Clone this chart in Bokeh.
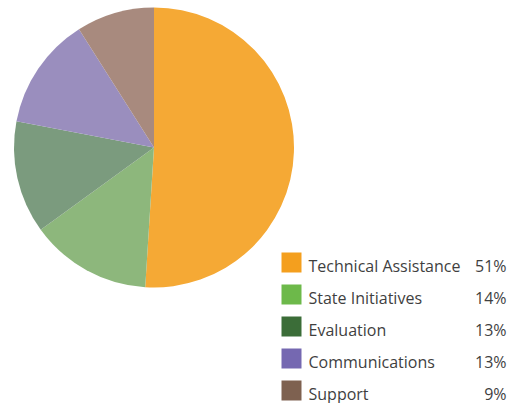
import math
from bokeh.plotting import figure
from bokeh.models import Range1d
from bokeh.core.properties import value
from bokeh.embed import file_html
from bokeh.resources import INLINE

categories = ["Technical Assistance", "State Initiatives", "Evaluation", "Communications", "Support"]
shares = [51, 14, 13, 13, 9]
pct_labels = ["51%", "14%", "13%", "13%", "9%"]
pie_colors = ["#F5A935", "#8DB77C", "#7B9B7E", "#9A8EBE", "#A88A7E"]
legend_colors = ["#F49F1E", "#6DB94A", "#3B6D38", "#7568B1", "#7E6150"]

W, H = 525, 403
p = figure(width=W, height=H, output_backend="svg", toolbar_location=None,
           x_range=Range1d(0, W), y_range=Range1d(0, H), min_border=0)
p.axis.visible = False
p.grid.visible = False
p.outline_line_color = None
p.background_fill_color = "white"
p.border_fill_color = "white"

# pie
cx, cy, r = 153.5, H - 147, 140
total = sum(shares)
cum = 0.0
starts, ends = [], []
for s in shares:
    starts.append(math.pi / 2 - 2 * math.pi * cum / total)
    cum += s
    ends.append(math.pi / 2 - 2 * math.pi * cum / total)
p.wedge(x=[cx] * len(shares), y=[cy] * len(shares), radius=r,
        start_angle=starts, end_angle=ends, direction="clock",
        fill_color=pie_colors, line_color=None)

# legend
sq_x0, sq_size = 281, 20
top0, step = 252, 32
ys = [H - (top0 + i * step + sq_size / 2) for i in range(len(categories))]
p.rect(x=[sq_x0 + sq_size / 2] * len(categories), y=ys, width=sq_size, height=sq_size,
       fill_color=legend_colors, line_color=None)
p.text(x=[308] * len(categories), y=[y - 3 for y in ys], text=categories,
       text_font=value("Open Sans"), text_font_size="16px", text_color="#3f3f3f",
       text_baseline="middle", text_align="left")
p.text(x=[506] * len(categories), y=[y - 3 for y in ys], text=pct_labels,
       text_font=value("Open Sans"), text_font_size="16px", text_color="#3f3f3f",
       text_baseline="middle", text_align="right")

open("out.html", "w").write(file_html(p, INLINE))
